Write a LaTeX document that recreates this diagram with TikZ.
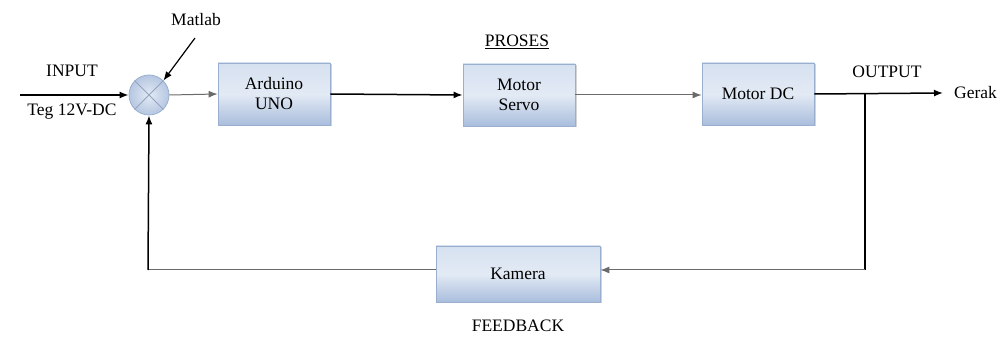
\documentclass[tikz,border=0pt]{standalone}
\usepackage{fontspec}
\setmainfont{Liberation Serif}
\usetikzlibrary{arrows.meta,shadows}
\definecolor{boxtop}{HTML}{D6E1F0}
\definecolor{boxbot}{HTML}{A9BDDC}
\definecolor{boxedge}{HTML}{9AAFCF}
\definecolor{lightline}{HTML}{6A6A6A}
\tikzset{
  blk/.style={draw=boxedge, line width=0.8pt, top color=boxtop, bottom color=boxbot, middle color=boxtop!70!white,
    minimum width=112pt, minimum height=62pt, align=center, inner sep=0pt,
    drop shadow={shadow xshift=1.5pt, shadow yshift=-1.5pt, opacity=0.35}},
  lbl/.style={font=\fontsize{17.5}{19}\selectfont, inner sep=0pt},
  conn/.style={line width=1.5pt, -{Latex[length=9pt,width=7pt]}},
  connl/.style={line width=1.0pt, draw=lightline, -{Latex[length=9pt,width=7pt]}},
}
\begin{document}
\begin{tikzpicture}[x=1pt,y=-1pt]
\useasboundingbox (0,0) rectangle (1005,339);
% summing junction
\node[circle, draw=boxedge, line width=0.8pt, inner color=boxtop!70!white, outer color=boxbot!85!white, minimum size=40pt, inner sep=0pt] (sum) at (149,95) {};
\draw[boxedge!80!gray, line width=1pt] (sum.north west) -- (sum.south east) (sum.north east) -- (sum.south west);
% blocks
\node[blk, lbl] (ard) at (274,94) {Arduino\\[1pt]UNO};
\node[blk, lbl] (servo) at (519,95) {Motor\\[1pt]Servo};
\node[blk, lbl] (dc) at (758,94) {Motor DC};
\node[blk, lbl, minimum width=164pt, minimum height=56pt] (kam) at (518,274) {Kamera};
% labels
\node[lbl] (input) at (72,71) {INPUT};
\node[lbl] (teg) at (72,112) {Teg 12V-DC};
\node[lbl] (matlab) at (196,20) {Matlab};
\node[lbl] (proses) at (517,42) {\underline{PROSES}};
\node[lbl] (output) at (887,72) {OUTPUT};
\node[lbl, anchor=west] (gerak) at (954,93) {Gerak};
\node[lbl] (fb) at (518,326) {FEEDBACK};
% coordinates
\coordinate (inl) at (20,95);
\coordinate (outr) at (943,93);
\coordinate (br) at (865,93);
\coordinate (brd) at (865,270);
\coordinate (fbl) at (148,270);
\coordinate (mtl) at (195,38);
% connectors
\draw[conn] (inl) -- (sum.west);
\draw[line width=1.2pt, -{Latex[length=9pt,width=7pt]}] (mtl) -- (sum.north east);
\draw[connl] (sum.east) -- (ard.west);
\draw[conn] (ard.east) -- (servo.west);
\draw[connl] (servo.east) -- (dc.west |- servo.east);
\draw[conn] (dc.east) -- (outr);
\draw[line width=1.5pt] (br) -- (brd);
\draw[connl] (brd) -- (kam.east |- brd);
\draw[line width=1.0pt, draw=lightline] (kam.west |- fbl) -- (fbl);
\draw[conn] (fbl) -- (sum.south);
\end{tikzpicture}
\end{document}
